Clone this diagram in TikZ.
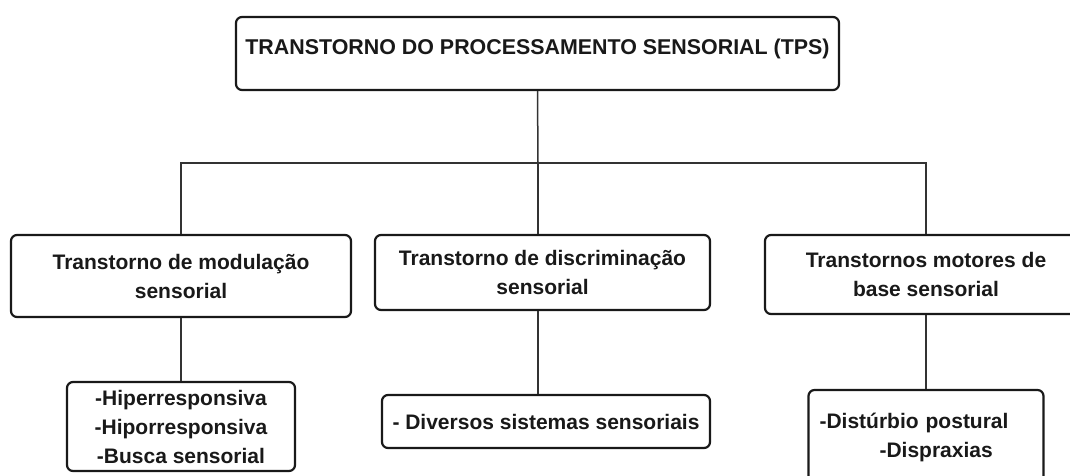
\documentclass[tikz,border=0pt]{standalone}
\usepackage{fontspec}
\setmainfont{Liberation Sans}

\begin{document}
\begin{tikzpicture}[x=1pt,y=-1pt,
    box/.style={draw=black!90, line width=2.2pt, rounded corners=6pt, fill=white,
      text=black!90, font=\bfseries\fontsize{21}{29}\selectfont, align=center, inner sep=0pt},
    link/.style={draw=black!80, line width=1.5pt}]
    \useasboundingbox (0,0) rectangle (1070,475);
    \clip (0,0) rectangle (1070,475);

    % Top box
    \node[box, minimum width=603pt, text height=37pt, text depth=36pt,
      font=\bfseries\fontsize{21.4}{29}\selectfont] (tps) at (537.5,53.5)
      {TRANSTORNO DO PROCESSAMENTO SENSORIAL (TPS)};
    \coordinate (fork) at (538,163);

    % Second row
    \node[box, minimum width=340pt, minimum height=82pt] (mod) at (181,276)
      {Transtorno de modulação\\sensorial};
    \node[box, minimum width=335pt, minimum height=75pt] (disc) at (542.5,272.5)
      {Transtorno de discriminação\\sensorial};
    \node[box, minimum width=322pt, minimum height=79pt] (mot) at (926,274.5)
      {Transtornos motores de\\base sensorial};

    % Third row
    \node[box, minimum width=228pt, minimum height=89pt] (resp) at (181,426.5)
      {-Hiperresponsiva\\-Hiporresponsiva\\-Busca sensorial};
    \node[box, minimum width=328pt, minimum height=53pt] (divs) at (546,421.5)
      {- Diversos sistemas sensoriais};
    \node[box, minimum width=235pt, minimum height=94pt, text width=213pt,
      inner xsep=11pt, align=left] (post) at (926,437)
      {-Distúrbio postural\\\hspace*{60pt}-Dispraxias};

    % Connectors
    \draw[link] (tps.south) -- (fork);
    \draw[link] (mod.north) |- (fork) -| (mot.north);
    \draw[link] (fork) -- (fork |- disc.north);
    \draw[link] (mod.south) -- (resp.north);
    \draw[link] (disc.south -| fork) -- (divs.north -| fork);
    \draw[link] (mot.south) -- (post.north);
\end{tikzpicture}
\end{document}
